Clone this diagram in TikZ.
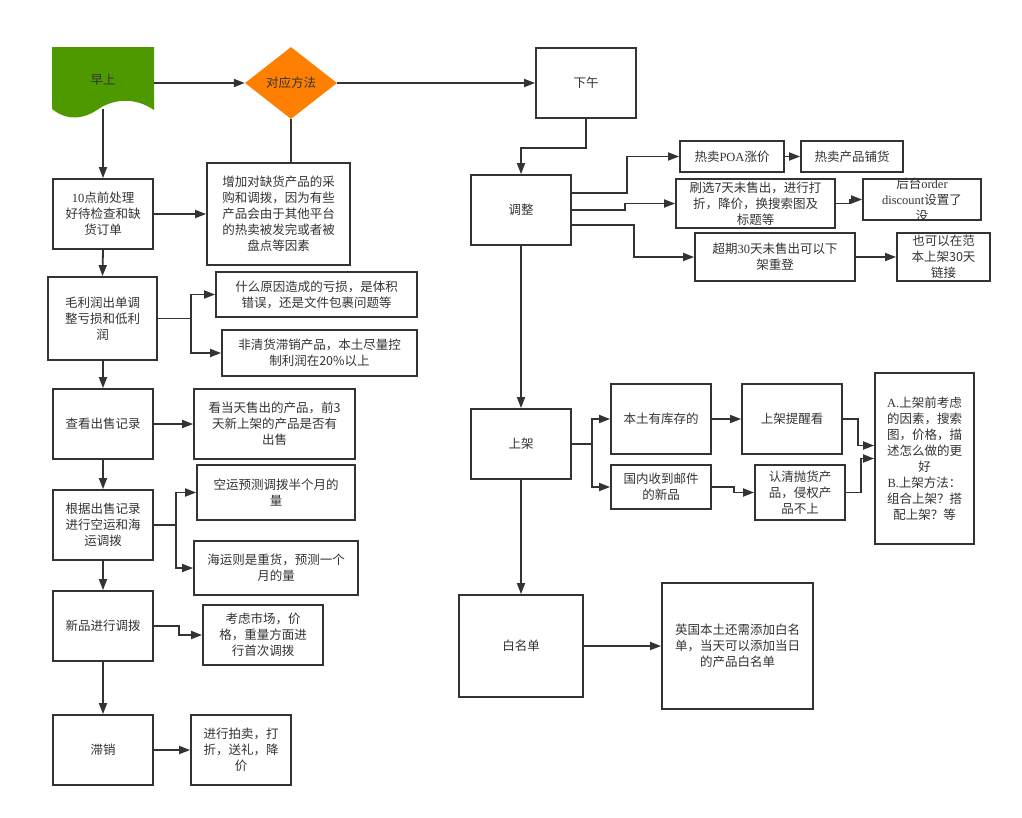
\documentclass[tikz,border=0pt]{standalone}
\usepackage{fontspec}
\setmainfont{Noto Sans CJK SC}
\newfontfamily\latin{Liberation Serif}
\usepackage{tikz}
\usetikzlibrary{calc,shapes.geometric,arrows.meta}

\definecolor{mgreen}{RGB}{78,153,0}
\definecolor{morange}{RGB}{255,128,0}
\definecolor{linec}{RGB}{51,51,51}

\begin{document}
\begin{tikzpicture}[x=1pt, y=-1pt,
  font=\fontsize{12.5}{16}\selectfont,
  box/.style={draw=linec, line width=1.8pt, fill=white, align=center,
    text=linec, inner sep=1pt},
  link/.style={draw=linec, line width=1.8pt},
  arr/.style={link, -{Triangle[length=11pt,width=8pt]}}]
  \useasboundingbox (0,0) rectangle (1022,817);
  % morning: document shape and decision diamond
  \fill[mgreen] (52,47) -- (154,47) -- (154,110)
    .. controls (135,97) and (115,99) .. (100,108)
    .. controls (82,121) and (66,120) .. (52,109) -- cycle;
  \node[text=linec, minimum width=102, minimum height=58] (morning) at (103,80) {早上};
  \node[diamond, fill=morange, text=linec, minimum width=92, minimum height=72,
    inner sep=0pt] (method) at (291,83) {对应方法};
  \node[box, minimum width=100, minimum height=70] (afternoon) at (586,83) {下午};

  % left column
  \node[box, minimum width=100, minimum height=70] (before10) at (103,214)
    {{\latin 10}点前处理\\好待检查和缺\\货订单};
  \node[box, minimum width=143, minimum height=102] (addbuy) at (278.5,214)
    {增加对缺货产品的采\\购和调拨，因为有些\\产品会由于其他平台\\的热卖被发完或者被\\盘点等因素};
  \node[box, minimum width=109, minimum height=83] (margin) at (102.5,318.5)
    {毛利润出单调\\整亏损和低利\\润};
  \node[box, minimum width=201, minimum height=45] (lossq) at (316.5,294.5)
    {什么原因造成的亏损，是体积\\错误，还是文件包裹问题等};
  \node[box, minimum width=195, minimum height=46] (nonclear) at (319.5,353)
    {非清货滞销产品，本土尽量控\\制利润在20\%以上};
  \node[box, minimum width=100, minimum height=70] (checksales) at (103,424) {查看出售记录};
  \node[box, minimum width=161, minimum height=70] (sold3) at (274.5,424)
    {看当天售出的产品，前3\\天新上架的产品是否有\\出售};
  \node[box, minimum width=100, minimum height=70] (alloc) at (103,525)
    {根据出售记录\\进行空运和海\\运调拨};
  \node[box, minimum width=158, minimum height=55] (airq) at (276,492.5)
    {空运预测调拨半个月的\\量};
  \node[box, minimum width=164, minimum height=54] (seaq) at (276,568)
    {海运则是重货，预测一个\\月的量};
  \node[box, minimum width=100, minimum height=70] (newitem) at (103,626) {新品进行调拨};
  \node[box, minimum width=120, minimum height=60] (newq) at (263,635)
    {考虑市场，价\\格，重量方面进\\行首次调拨};
  \node[box, minimum width=100, minimum height=70] (slow) at (103,750) {滞销};
  \node[box, minimum width=100, minimum height=70] (auction) at (241,750)
    {进行拍卖，打\\折，送礼，降\\价};

  % right column
  \node[box, minimum width=100, minimum height=70] (adjust) at (521,210) {调整};
  \node[box, minimum width=104, minimum height=31] (hotpoa) at (732,156.5)
    {热卖{\latin POA}涨价};
  \node[box, minimum width=102, minimum height=31] (hotstock) at (852,156.5) {热卖产品铺货};
  \node[box, minimum width=159, minimum height=49, inner sep=0pt] (filter7) at (755.5,203.5)
    {刷选7天未售出，进行打\\折，降价，换搜索图及\\标题等};
  \node[box, minimum width=118, minimum height=41] (backorder) at (922,199.5) {};
  \node[text=linec, align=center] at (backorder)
    {后台{\latin order}\\{\latin discount}设置了\\没};
  \node[box, minimum width=160, minimum height=48] (over30) at (775,257)
    {超期{\latin 30}天未售出可以下\\架重登};
  \node[box, minimum width=93, minimum height=48] (relist) at (943.5,257) {};
  \node[text=linec, align=center] at (relist) {也可以在范\\本上架30天\\链接};
  \node[box, minimum width=100, minimum height=70] (listing) at (521,444) {上架};
  \node[box, minimum width=100, minimum height=70] (localstock) at (661,419) {本土有库存的};
  \node[box, minimum width=100, minimum height=44] (domestic) at (661,487)
    {国内收到邮件\\的新品};
  \node[box, minimum width=100, minimum height=70] (remind) at (792,419) {上架提醒看};
  \node[box, minimum width=90, minimum height=55] (clarify) at (800,492.5)
    {认清抛货产\\品，侵权产\\品不上};
  \node[box, minimum width=99, minimum height=171] (listtips) at (924.5,458.5)
    {{\latin A.}上架前考虑\\的因素，搜索\\图，价格，描\\述怎么做的更\\好\\{\latin B.}上架方法：\\组合上架？搭\\配上架？等};
  \node[box, minimum width=124, minimum height=102] (whitelist) at (521,646) {白名单};
  \node[box, minimum width=151, minimum height=126] (ukwhite) at (737.5,646)
    {英国本土还需添加白名\\单，当天可以添加当日\\的产品白名单};

  % morning links
  \draw[arr] (morning.east |- method.west) -- (method.west);
  \draw[arr] (method.east) -- (afternoon.west);
  \draw[link] (method.south) -- (method.south |- addbuy.north);
  \draw[arr] (morning.south) -- (before10.north);
  \draw[arr] (before10.east) -- (addbuy.west);
  \draw[arr] (before10.south) -- (margin.north);
  \draw[arr] (margin.east) -- ++(33,0) |- (lossq.west);
  \draw[arr] (margin.east) -- ++(33,0) |- (nonclear.west);
  \draw[arr] (margin.south) -- (margin.south -| checksales.north) -- (checksales.north);
  \draw[arr] (checksales.east) -- (sold3.west);
  \draw[arr] (checksales.south) -- (alloc.north);
  \draw[arr] (alloc.east) -- ++(22,0) |- (airq.west);
  \draw[arr] (alloc.east) -- ++(22,0) |- (seaq.west);
  \draw[arr] (alloc.south) -- (newitem.north);
  \draw[arr] (newitem.east) -- ++(25,0) |- (newq.west);
  \draw[arr] (newitem.south) -- (slow.north);
  \draw[arr] (slow.east) -- (auction.west);

  % afternoon links
  \draw[arr] (afternoon.south) -- ++(0,29) -| (adjust.north);
  \draw[arr] ($(adjust.east)+(0,-17)$) -- ++(55,0) |- (hotpoa.west);
  \draw[arr] (adjust.east) -- ++(53,0) |- (filter7.west);
  \draw[arr] ($(adjust.east)+(0,15)$) -- ++(62,0) |- (over30.west);
  \draw[arr] (hotpoa.east) -- (hotstock.west);
  \draw[arr] (filter7.east) -- ++(14,0) |- (backorder.west);
  \draw[arr] (over30.east) -- (relist.west);
  \draw[arr] (adjust.south) -- (listing.north);
  \draw[arr] (listing.east) -- ++(20,0) |- (localstock.west);
  \draw[arr] (listing.east) -- ++(20,0) |- (domestic.west);
  \draw[arr] (localstock.east) -- (remind.west);
  \draw[arr] (domestic.east) -- ++(22,0) |- (clarify.west);
  \draw[arr] (remind.east) -- ++(15,0) |- ($(listtips.west)+(0,-13)$);
  \draw[arr] (clarify.east) -- ++(15,0) |- (listtips.west);
  \draw[arr] (listing.south) -- (whitelist.north);
  \draw[arr] (whitelist.east) -- (ukwhite.west);
\end{tikzpicture}
\end{document}
